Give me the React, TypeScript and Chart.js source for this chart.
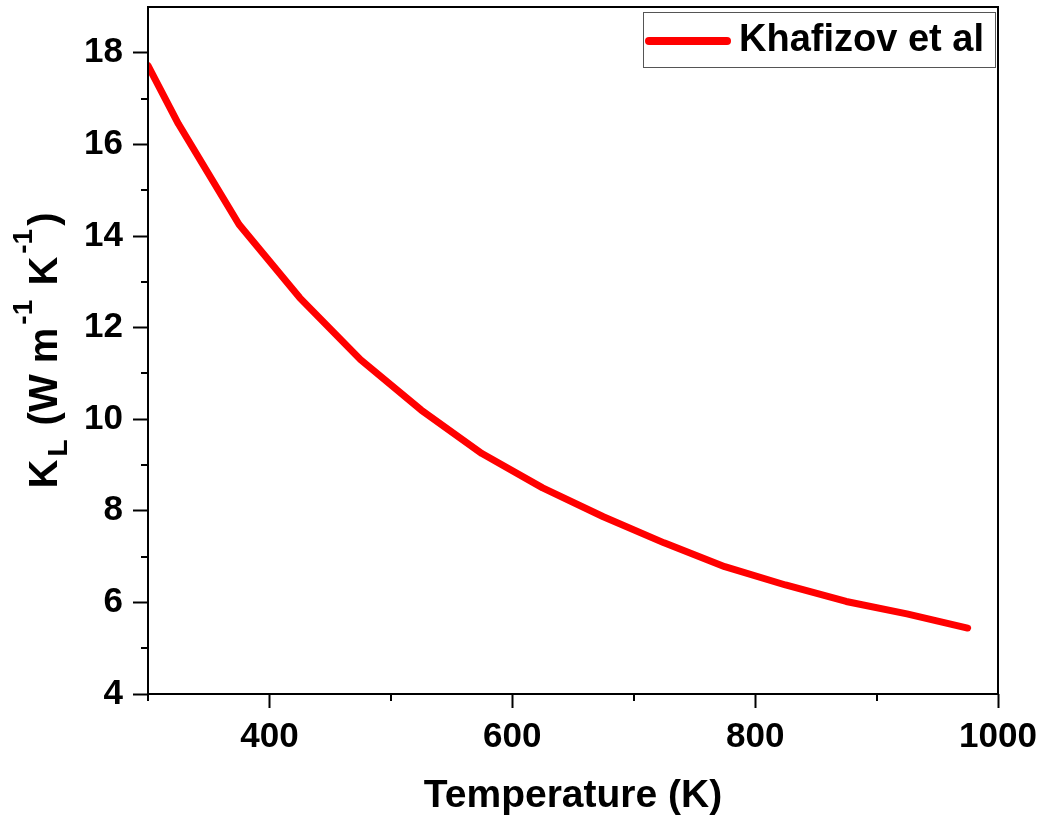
import React, { useEffect, useRef } from "react";
import { Chart, registerables } from "chart.js";

Chart.register(...registerables);

// Lattice thermal conductivity vs temperature
const TEMPERATURE_K = [300, 325, 375, 425, 475, 525, 575, 625, 675, 725, 775, 825, 875, 925, 975];
const KAPPA_L = [17.72, 16.45, 14.25, 12.65, 11.3, 10.2, 9.25, 8.5, 7.87, 7.3, 6.78, 6.38, 6.02, 5.75, 5.44];

const SERIES_LABEL = "Khafizov et al";

const X_MAJOR = [400, 600, 800, 1000];
const X_MINOR = [300, 500, 700, 900];
const Y_MAJOR = [4, 6, 8, 10, 12, 14, 16, 18];
const Y_MINOR = [5, 7, 9, 11, 13, 15, 17];

const FONT = "'Liberation Sans', Arial, Helvetica, sans-serif";

const framePlugin = {
  id: "frameAndExtras",
  afterDraw(chart: any) {
    const { ctx, chartArea } = chart;
    const { left, right, top, bottom } = chartArea;
    const xs = chart.scales.x;
    const ys = chart.scales.y;
    ctx.save();

    // frame
    ctx.strokeStyle = "#000";
    ctx.lineWidth = 2;
    ctx.strokeRect(left, top, right - left, bottom - top);

    // minor ticks
    ctx.beginPath();
    X_MINOR.forEach((v) => {
      const px = Math.round(xs.getPixelForValue(v));
      ctx.moveTo(px, bottom);
      ctx.lineTo(px, bottom + 7);
    });
    Y_MINOR.forEach((v) => {
      const py = Math.round(ys.getPixelForValue(v));
      ctx.moveTo(left, py);
      ctx.lineTo(left - 7, py);
    });
    ctx.stroke();

    // x title
    ctx.fillStyle = "#000";
    ctx.font = `bold 39px ${FONT}`;
    ctx.textAlign = "center";
    ctx.textBaseline = "alphabetic";
    ctx.fillText("Temperature (K)", (left + right) / 2, bottom + 113);

    // y title with sub/superscripts, rotated
    const gap = 3;
    const parts = [
      { t: "K", size: 40, dy: 0 },
      { t: "L", size: 28, dy: 10 },
      { t: " (W m", size: 40, dy: 0 },
      { t: "-1", size: 28, dy: -25 },
      { t: " K", size: 40, dy: 0 },
      { t: "-1", size: 28, dy: -25 },
      { t: ")", size: 40, dy: 0 },
    ];
    let total = 0;
    const widths = parts.map((p) => {
      ctx.font = `bold ${p.size}px ${FONT}`;
      const w = ctx.measureText(p.t).width + gap;
      total += w;
      return w;
    });
    total -= gap;
    ctx.translate(57, (top + bottom) / 2);
    ctx.rotate(-Math.PI / 2);
    ctx.textAlign = "left";
    let cx = -total / 2;
    parts.forEach((p, i) => {
      ctx.font = `bold ${p.size}px ${FONT}`;
      ctx.fillText(p.t, cx, p.dy);
      cx += widths[i];
    });
    ctx.setTransform(1, 0, 0, 1, 0, 0);

    // legend box
    const ds = chart.data.datasets[0];
    const boxL = right - 355;
    const boxT = top + 5;
    const boxW = 352;
    const boxH = 55;
    ctx.strokeStyle = "#555";
    ctx.lineWidth = 1;
    ctx.strokeRect(boxL + 0.5, boxT + 0.5, boxW, boxH);
    const midY = boxT + 29;
    ctx.strokeStyle = ds.borderColor;
    ctx.lineWidth = 8;
    ctx.lineCap = "round";
    ctx.beginPath();
    ctx.moveTo(boxL + 6, midY);
    ctx.lineTo(boxL + 84, midY);
    ctx.stroke();
    ctx.fillStyle = "#000";
    ctx.font = `bold 38px ${FONT}`;
    ctx.textAlign = "left";
    ctx.textBaseline = "middle";
    ctx.fillText(ds.label, boxL + 96, midY);

    ctx.restore();
  },
};

export default function App() {
  const canvasRef = useRef<HTMLCanvasElement>(null);

  useEffect(() => {
    if (!canvasRef.current) return;
    const chart = new Chart(canvasRef.current, {
      type: "line",
      data: {
        datasets: [
          {
            label: SERIES_LABEL,
            data: TEMPERATURE_K.map((t, i) => ({ x: t, y: KAPPA_L[i] })),
            borderColor: "#ff0000",
            backgroundColor: "#ff0000",
            borderWidth: 7,
            borderCapStyle: "round",
            borderJoinStyle: "round",
            pointRadius: 0,
            tension: 0,
            fill: false,
          },
        ],
      },
      options: {
        animation: false,
        responsive: false,
        events: [],
        layout: { padding: { top: 7, right: 43, left: 0, bottom: 0 } },
        plugins: {
          legend: { display: false },
          tooltip: { enabled: false },
          title: { display: false },
        },
        scales: {
          x: {
            type: "linear",
            min: 300,
            max: 1000,
            afterBuildTicks: (s: any) => {
              s.ticks = X_MAJOR.map((v) => ({ value: v }));
            },
            afterFit: (s: any) => {
              s.height = 122;
              s.paddingLeft = 0;
              s.paddingRight = 0;
            },
            border: { display: false },
            grid: {
              drawOnChartArea: false,
              drawTicks: true,
              tickLength: 14,
              tickWidth: 2,
              tickColor: "#000",
            },
            ticks: {
              color: "#000",
              padding: 8,
              maxRotation: 0,
              callback: (v: any) => String(v),
              font: { family: FONT, size: 35, weight: "bold" },
            },
          },
          y: {
            type: "linear",
            min: 4,
            max: 19,
            afterBuildTicks: (s: any) => {
              s.ticks = Y_MAJOR.map((v) => ({ value: v }));
            },
            afterFit: (s: any) => {
              s.width = 148;
              s.paddingTop = 0;
              s.paddingBottom = 0;
            },
            border: { display: false },
            grid: {
              drawOnChartArea: false,
              drawTicks: true,
              tickLength: 15,
              tickWidth: 2,
              tickColor: "#000",
            },
            ticks: {
              color: "#000",
              padding: 10,
              callback: (v: any) => String(v),
              font: { family: FONT, size: 35, weight: "bold" },
            },
          },
        },
      },
      plugins: [framePlugin],
    } as any);
    return () => chart.destroy();
  }, []);

  return (
    <div style={{ position: "absolute", left: 0, top: 0, width: 1041, height: 816, background: "#fff" }}>
      <canvas ref={canvasRef} width={1041} height={816} style={{ display: "block" }} />
    </div>
  );
}
